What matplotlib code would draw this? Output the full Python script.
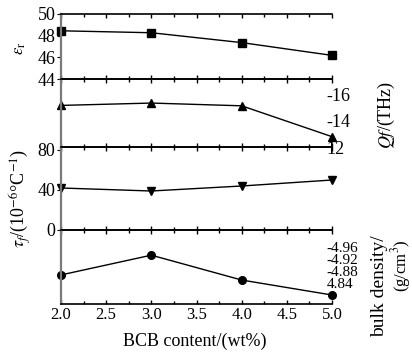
import matplotlib
matplotlib.use("Agg")
import matplotlib.pyplot as plt
from matplotlib.ticker import MultipleLocator

plt.rcParams['font.family'] = ['Liberation Serif', 'DejaVu Serif']
plt.rcParams['mathtext.fontset'] = 'stix'

# data
bcb = [2.0, 3.0, 4.0, 5.0]
eps_r = [48.45, 48.27, 47.36, 46.18]
qf = [15.18, 15.36, 15.15, 12.79]
tau_f = [42, 39, 44, 50]
density = [4.867, 4.933, 4.850, 4.800]

x_ticks = [2.0, 2.5, 3.0, 3.5, 4.0, 4.5, 5.0]
eps_ticks = [44, 46, 48, 50]
qf_ticks = [12, 14, 16]
qf_labels = ['12', '-14', '-16']
tau_ticks = [0, 40, 80]
den_ticks = [4.84, 4.88, 4.92, 4.96]
den_labels = ['4.84', '-4.88', '-4.92', '-4.96']

W, H = 412, 354
fig = plt.figure(figsize=(W / 100, H / 100), dpi=100)

left, right = 61 / W, 332 / W
edges = [14, 79, 147, 230, 304]  # panel borders, pixels from top
axes = []
for i in range(4):
    y0 = 1 - edges[i + 1] / H
    h = (edges[i + 1] - edges[i]) / H
    ax = fig.add_axes([left, y0, right - left, h])
    ax.set_xlim(2.0, 5.0)
    ax.xaxis.set_major_locator(MultipleLocator(0.5))
    ax.xaxis.set_minor_locator(MultipleLocator(0.25))
    ax.tick_params(axis='x', which='both', direction='in', top=True, bottom=True,
                   labelbottom=False, length=3, width=1)
    ax.tick_params(axis='x', which='minor', length=2)
    ax.spines['right'].set_visible(False)
    ax.spines['left'].set_color('#7a7a7a')
    ax.spines['left'].set_linewidth(1.6)
    ax.spines['top'].set_linewidth(1.2)
    ax.spines['bottom'].set_linewidth(1.2)
    ax.patch.set_alpha(0)
    axes.append(ax)

fs = 13
ax1, ax2, ax3, ax4 = axes

# panel 1: permittivity
ax1.plot(bcb, eps_r, '-s', color='black', lw=1, ms=5.5, clip_on=False)
ax1.set_ylim(44, 50)
ax1.set_yticks(eps_ticks)
ax1.tick_params(axis='y', direction='out', length=3, labelsize=fs, pad=1)
fig.text(20 / W, 1 - 48 / H, r'$\varepsilon_{\rm r}$', fontsize=12,
         rotation=90, ha='center', va='center')

# panel 2: Qf, labels on the right
ax2.plot(bcb, qf, '-^', color='black', lw=1, ms=5.5, clip_on=False)
ax2.set_ylim(12, 17.2)
ax2.set_yticks(qf_ticks)
ax2.set_yticklabels(qf_labels)
ax2.yaxis.tick_right()
ax2.tick_params(axis='y', length=0, labelsize=fs, pad=-4)
fig.text(386 / W, 1 - 115 / H, '$Qf$/(THz)', fontsize=13,
         rotation=90, ha='center', va='center')

# panel 3: tau_f
ax3.plot(bcb, tau_f, '-v', color='black', lw=1, ms=5.5, clip_on=False)
ax3.set_ylim(0, 83)
ax3.set_yticks(tau_ticks)
ax3.tick_params(axis='y', direction='out', length=3, labelsize=fs, pad=1)
fig.text(20 / W, 1 - 198 / H, r'$\tau_f$/(10$^{-6}$°C$^{-1}$)', fontsize=13,
         rotation=90, ha='center', va='center')

# panel 4: bulk density, labels on the right
ax4.plot(bcb, density, '-o', color='black', lw=1, ms=5.5, clip_on=False)
ax4.set_ylim(4.77, 5.017)
ax4.set_yticks(den_ticks)
ax4.set_yticklabels(den_labels)
ax4.yaxis.tick_right()
ax4.tick_params(axis='y', length=0, labelsize=11, pad=-4)
fig.text(380 / W, 1 - 286 / H, 'bulk density/', fontsize=14,
         rotation=90, ha='center', va='center')
fig.text(401 / W, 1 - 266 / H, '(g/cm$^3$)', fontsize=12,
         rotation=90, ha='center', va='center')

ax4.set_xticks(x_ticks)
ax4.set_xticklabels(['%.1f' % v for v in x_ticks])
ax4.tick_params(axis='x', which='major', labelbottom=True, labelsize=12, pad=2)
fig.text(195 / W, 1 - 341 / H, 'BCB content/(wt%)', fontsize=13,
         ha='center', va='center')

fig.savefig('out.png', dpi=100)
